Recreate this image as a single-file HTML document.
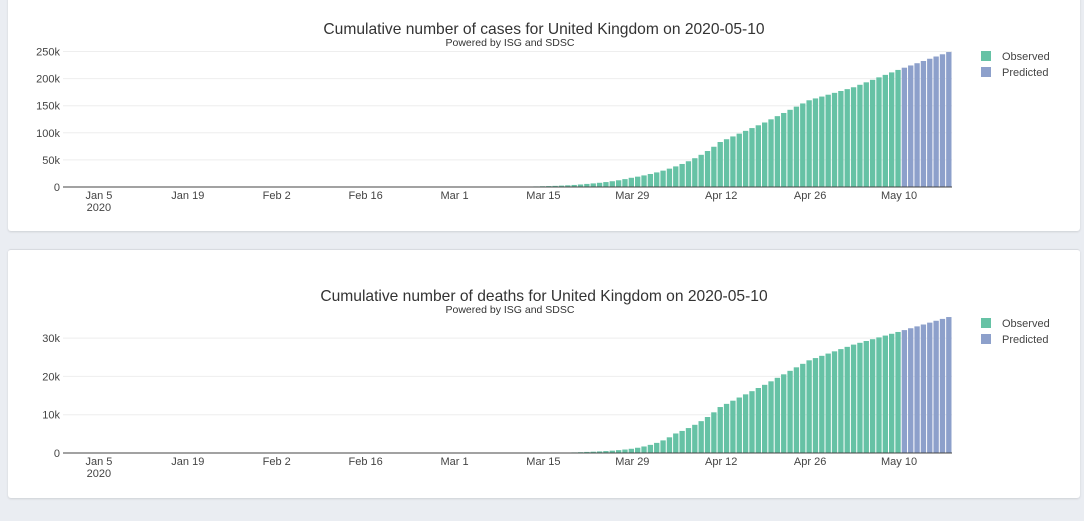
<!DOCTYPE html>
<html><head><meta charset="utf-8"><style>
html,body{margin:0;padding:0;background:#eaedf2;width:1084px;height:521px;overflow:hidden;font-family:"Liberation Sans",sans-serif}
.card{position:absolute;left:8px;width:1072px;background:#fff;border-radius:3px;box-shadow:0 1px 2px rgba(0,0,0,0.12)}
svg{position:absolute;left:0;top:0}
</style></head><body>
<div class="card" style="top:-4px;height:235px"></div>
<div class="card" style="top:249px;height:248px;border-top:1px solid #d8dbe0"></div>
<svg id="s" width="1084" height="521" xmlns="http://www.w3.org/2000/svg" font-family="Liberation Sans, sans-serif"></svg>
<script>
var s=document.getElementById('s');
var x0=63,pd=(952-63)/140;
function interp(keys,d){
 if(d<keys[0][0])return 0;
 for(var i=0;i<keys.length-1;i++){var a=keys[i],b=keys[i+1];
  if(d>=a[0]&&d<=b[0]){var t=(d-a[0])/(b[0]-a[0]);
   if(a[1]>0&&b[1]/a[1]>1.5)return a[1]*Math.pow(b[1]/a[1],t);return a[1]+(b[1]-a[1])*t;}}
 return keys[keys.length-1][1];}
var ck=[[31,2],[60,23],[66,163],[75,1391],[82,5683],[89,17000],[96,38000],[103,83000],[110,119000],[117,160000],[124,184000],[131,216000],[139,249000]];
var dk=[[66,1],[75,35],[82,280],[89,1100],[96,5100],[103,12000],[110,17800],[117,24200],[124,28300],[131,31600],[139,35500]];
var h='';
function chart(keys,base,scale,ticks,ty,title){
 var out='';
 ticks.forEach(function(t){var y=base-t[0]*scale;
  if(t[0]>0)out+='<line x1="'+x0+'" x2="952" y1="'+y+'" y2="'+y+'" stroke="#eee" stroke-width="1"/>';
  out+='<text x="60" y="'+(y+4)+'" font-size="11" fill="#444" text-anchor="end">'+t[1]+'</text>';});
 for(var d=0;d<140;d++){var v=interp(keys,d);var bh=v*scale;if(bh<=0)continue;
  var x=x0+d*pd+0.5;out+='<rect x="'+x.toFixed(2)+'" y="'+(base-bh).toFixed(2)+'" width="'+(pd-1).toFixed(2)+'" height="'+bh.toFixed(2)+'" fill="'+(d<=131?'#66c2a5':'#8da0cb')+'"/>';}
 out+='<line x1="'+x0+'" x2="952" y1="'+base+'" y2="'+base+'" stroke="#444" stroke-width="1"/>';
 var labs=['Jan 5','Jan 19','Feb 2','Feb 16','Mar 1','Mar 15','Mar 29','Apr 12','Apr 26','May 10'];
 labs.forEach(function(l,i){var x=x0+(5+14*i+0.5)*pd+1;out+='<text x="'+x+'" y="'+(base+12)+'" font-size="11" fill="#444" text-anchor="middle">'+l+'</text>';});
 out+='<text x="'+(x0+5.5*pd+1)+'" y="'+(base+24)+'" font-size="11" fill="#444" text-anchor="middle">2020</text>';
 out+='<text x="544" y="'+ty+'" font-size="15.6" fill="#333" text-anchor="middle">'+title+'</text>';
 out+='<text x="510" y="'+(ty+12)+'" font-size="10.5" fill="#333" text-anchor="middle">Powered by ISG and SDSC</text>';
 var ly=ty+16;
 out+='<rect x="981" y="'+(ly+1)+'" width="10" height="10" fill="#66c2a5"/><text x="1002" y="'+(ly+10)+'" font-size="11" fill="#444">Observed</text>';
 out+='<rect x="981" y="'+(ly+17)+'" width="10" height="10" fill="#8da0cb"/><text x="1002" y="'+(ly+26)+'" font-size="11" fill="#444">Predicted</text>';
 return out;}
h+=chart(ck,187,27.1/50000,[[0,'0'],[50000,'50k'],[100000,'100k'],[150000,'150k'],[200000,'200k'],[250000,'250k']],34,'Cumulative number of cases for United Kingdom on 2020-05-10');
h+=chart(dk,453,38.3/10000,[[0,'0'],[10000,'10k'],[20000,'20k'],[30000,'30k']],301,'Cumulative number of deaths for United Kingdom on 2020-05-10');
s.innerHTML=h;
</script>
</body></html>
